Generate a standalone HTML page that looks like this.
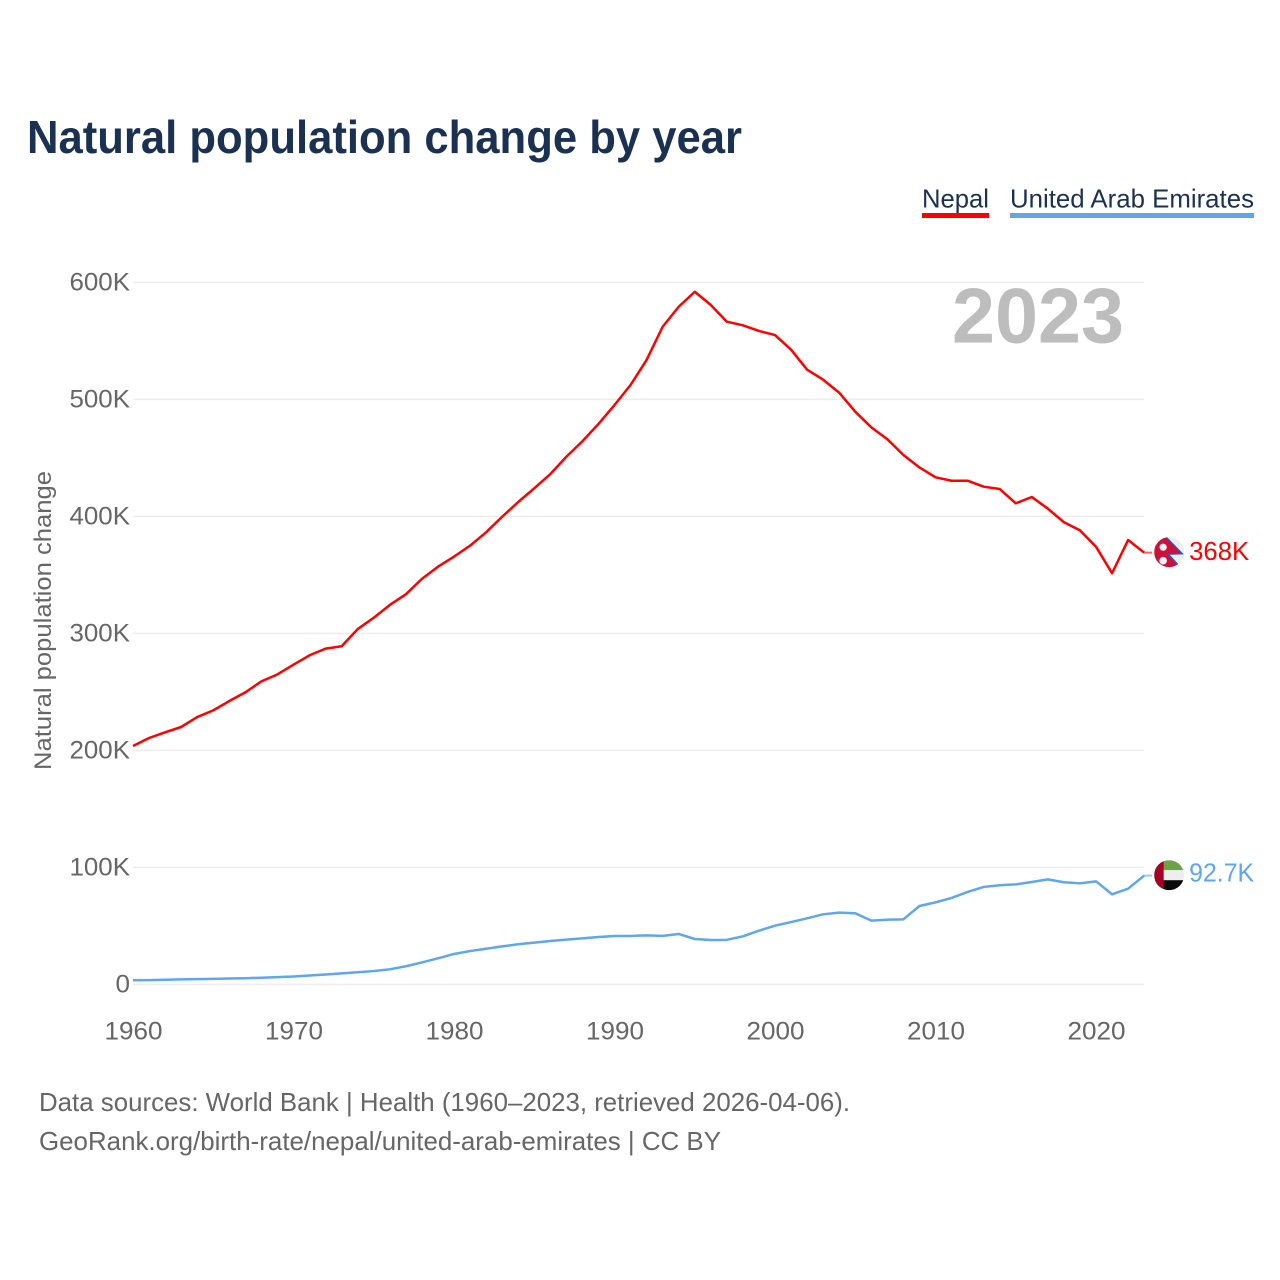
<!DOCTYPE html>
<html lang="en">
<head>
<meta charset="utf-8">
<title>Natural population change by year</title>
<style>
html,body{margin:0;padding:0;background:#fff;}
svg{display:block;font-family:"Liberation Sans",sans-serif;}
</style>
</head>
<body>
<svg id="chart" xmlns="http://www.w3.org/2000/svg" width="1280" height="1280" viewBox="0 0 1280 1280">
  <rect width="1280" height="1280" fill="#fff"/>
  <text x="27" y="153" font-size="46" font-weight="700" fill="#1a3152" textLength="715" lengthAdjust="spacingAndGlyphs">Natural population change by year</text>

  <g id="grid"></g>
  <g id="yticks"></g>
  <g id="xticks"></g>

  <text transform="translate(51,770) rotate(-90)" font-size="24" fill="#666" textLength="299" lengthAdjust="spacingAndGlyphs">Natural population change</text>

  <text x="952" y="342.5" font-size="78" font-weight="700" fill="#bdbdbd" textLength="172" lengthAdjust="spacingAndGlyphs">2023</text>

  <g>
    <g>
      <text x="922" y="207.5" font-size="26" fill="#1a3152" textLength="67" lengthAdjust="spacingAndGlyphs">Nepal</text>
      <rect x="922" y="213" width="67" height="5" fill="#ff0000"/>
    </g>
    <g>
      <text x="1010" y="207.5" font-size="26" fill="#1a3152" textLength="244" lengthAdjust="spacingAndGlyphs">United Arab Emirates</text>
      <rect x="1010" y="213" width="244" height="5" fill="#5fa6ec"/>
    </g>
  </g>

  <g id="series"></g>

  <defs>
    <clipPath id="npClip"><circle cx="0" cy="0" r="15"/></clipPath>
    <clipPath id="aeClip"><circle cx="0" cy="0" r="15"/></clipPath>
  </defs>

  <g id="flag-np">
    <g clip-path="url(#npClip)">
      <rect x="-15" y="-15" width="30" height="30" fill="#eeeeee"/>
      <polygon points="-15,-17 -4,-16 13,2 -1,2.5 11,16 -15,16" fill="#d0103a"/>
      <polyline points="-4,-16 13,1.5 -1,2 11,15" fill="none" stroke="#1f5fb5" stroke-width="1.5"/>
      <circle cx="-6" cy="-5" r="3.6" fill="#f6f2f2"/>
      <circle cx="-6" cy="8.5" r="3.8" fill="#f6f2f2"/>
    </g>
  </g>
  <g id="flag-ae">
    <g clip-path="url(#aeClip)">
      <rect x="-15" y="-15" width="30" height="10" fill="#6ba543"/>
      <rect x="-15" y="-5" width="30" height="10" fill="#eeeeee"/>
      <rect x="-15" y="5" width="30" height="10" fill="#0a0a0a"/>
      <rect x="-15" y="-15" width="9.5" height="30" fill="#a50026"/>
    </g>
  </g>

  <text id="label-np" font-size="26" fill="#ff0000" textLength="60" lengthAdjust="spacingAndGlyphs"></text>
  <text id="label-ae" font-size="26" fill="#5fa6ec" textLength="65" lengthAdjust="spacingAndGlyphs"></text>

  <g>
    <text x="39" y="1111" font-size="26" fill="#666" textLength="811" lengthAdjust="spacingAndGlyphs">Data sources: World Bank | Health (1960–2023, retrieved 2026-04-06).</text>
    <text x="39" y="1150" font-size="26" fill="#666" textLength="682" lengthAdjust="spacingAndGlyphs">GeoRank.org/birth-rate/nepal/united-arab-emirates | CC BY</text>
  </g>
</svg>

<script>
const startYear = 1960;
const nepalValues = [203.8,210.6,215.5,220,228.5,234.2,242.2,249.6,259,265,273.3,281.3,287,289,303.7,313.4,324.3,333.4,346.6,357,365.6,375,386.4,399.7,412.3,424,436.2,451,464.2,479,495.2,512.3,533.7,562.1,579.2,592,580.7,566.4,563.3,558.5,555,542.5,525.4,516.8,505.7,489.5,476.1,465.9,452.5,441.8,433.4,430.5,430.5,425.4,423.4,411.2,416.6,406.6,395,388.1,374.1,351.4,379.8,369];
const uaeValues = [3.5,3.7,4,4.3,4.5,4.7,5,5.3,5.7,6.2,6.8,7.6,8.5,9.4,10.4,11.4,12.9,15.5,18.8,22.3,26,28.5,30.5,32.5,34.3,35.7,37.1,38.3,39.3,40.5,41.4,41.4,41.9,41.5,43.1,38.8,38,38.1,41.1,45.9,50.2,53.3,56.5,59.9,61.3,60.8,54.5,55.3,55.6,67,70.1,73.9,79,83.3,84.7,85.5,87.5,89.8,87.3,86.4,88.1,77,81.8,93];
const yTickValues = [0,100,200,300,400,500,600];
const yTickLabels = ['0','100K','200K','300K','400K','500K','600K'];
const xTickYears = [1960,1970,1980,1990,2000,2010,2020];
const endLabels = ['368K','92.7K'];

const NS = 'http://www.w3.org/2000/svg';
function xScale(year){ return 133 + (year - 1960) * 16.05; }
function yScale(k){ return 984.4 - k * 702 / 600; }
function labelWidth(s){ return s.replace('K','').length * 14.5 + (s.indexOf('K') >= 0 ? 17 : 0); }
function make(tag, attrs, parent){
  const el = document.createElementNS(NS, tag);
  for (const key in attrs) el.setAttribute(key, attrs[key]);
  parent.appendChild(el);
  return el;
}

const grid = document.getElementById('grid');
const yticks = document.getElementById('yticks');
yTickValues.forEach(function(v, i){
  const line = make('line', {x1:133, x2:1144, y1:yScale(v), y2:yScale(v), stroke:'#eeeeee', 'stroke-width':1.5}, grid);
  
  
  const t = make('text', {x:130, y:yScale(v)+8, 'text-anchor':'end', 'font-size':25, fill:'#666', textLength:labelWidth(yTickLabels[i]), lengthAdjust:'spacingAndGlyphs'}, yticks);
  t.textContent = yTickLabels[i];
  
  
});

const xticks = document.getElementById('xticks');
xTickYears.forEach(function(year){
  const s = String(year);
  const t = make('text', {x:xScale(year)+0.5, y:1039.5, 'text-anchor':'middle', 'font-size':25, fill:'#666', textLength:labelWidth(s), lengthAdjust:'spacingAndGlyphs'}, xticks);
  t.textContent = s;
  
  
});

const seriesGroup = document.getElementById('series');
function drawSeries(values, color){
  const pts = values.map(function(v, i){ return xScale(startYear + i) + ',' + yScale(v); }).join(' ');
  const line = make('polyline', {points:pts, fill:'none', stroke:color, 'stroke-width':2.5, 'stroke-linejoin':'round'}, seriesGroup);
  
  
  const lastX = xScale(startYear + values.length - 1);
  const lastY = yScale(values[values.length - 1]);
  const conn = make('line', {x1:lastX, x2:lastX + 8, y1:lastY, y2:lastY, stroke:color, 'stroke-width':2, opacity:0.6}, seriesGroup);
  
  
  return lastY;
}
const npEnd = drawSeries(nepalValues, '#ff0000');
const aeEnd = drawSeries(uaeValues, '#5fa6ec');

const flagX = xScale(2023) + 25;
document.getElementById('flag-np').setAttribute('transform', 'translate(' + flagX + ',' + (npEnd - 0.5) + ')');
document.getElementById('flag-ae').setAttribute('transform', 'translate(' + flagX + ',' + (aeEnd - 0.4) + ')');
const labelNp = document.getElementById('label-np');
labelNp.setAttribute('x', flagX + 20);
labelNp.setAttribute('y', npEnd + 7.5);
labelNp.textContent = endLabels[0];
const labelAe = document.getElementById('label-ae');
labelAe.setAttribute('x', flagX + 20);
labelAe.setAttribute('y', aeEnd + 6);
labelAe.textContent = endLabels[1];
</script>
</body>
</html>
